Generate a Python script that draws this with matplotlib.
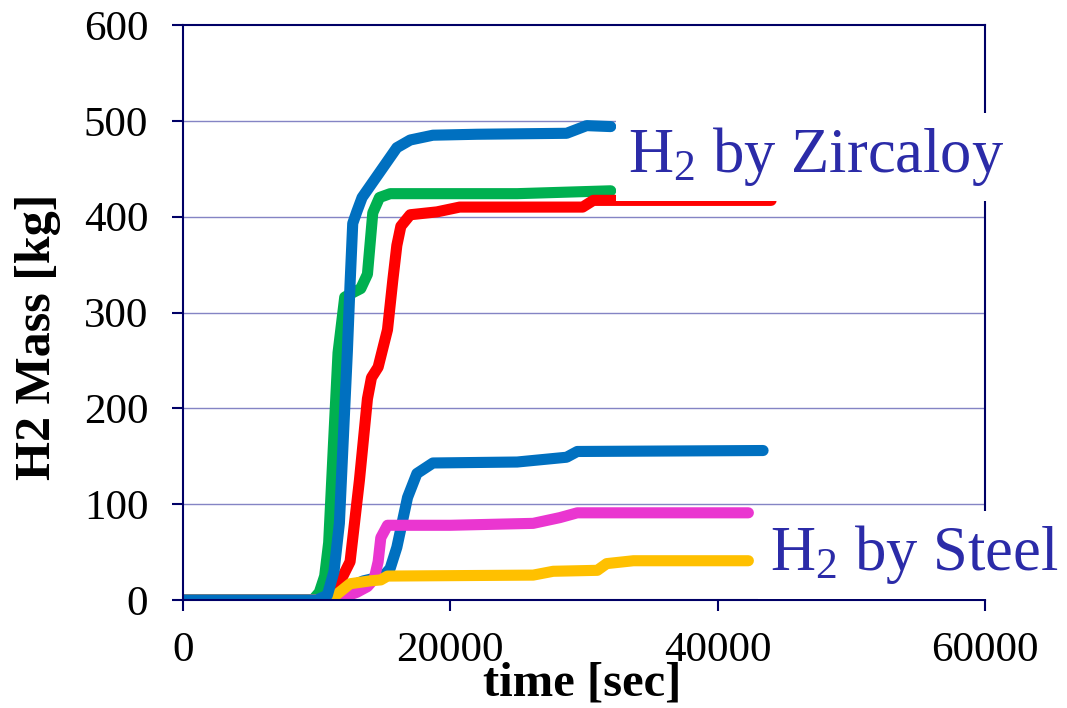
import matplotlib
matplotlib.use("Agg")
import matplotlib.pyplot as plt

plt.rcParams['font.family'] = ['Liberation Serif', 'DejaVu Serif']
plt.rcParams['mathtext.fontset'] = 'custom'
plt.rcParams['mathtext.rm'] = 'Liberation Serif'
plt.rcParams['mathtext.it'] = 'Liberation Serif:italic'

# H2 by Zircaloy
zr_blue_t = [0, 10000, 10800, 11300, 11700, 12000, 12300, 12500, 12700, 13000, 13400, 14000, 15000, 16000, 17000, 18700, 22000, 28700, 30200, 32000]
zr_blue_m = [0, 0, 5, 30, 80, 170, 260, 330, 393, 405, 420, 432, 452, 472, 480, 485, 486, 487, 495, 494]

zr_green_t = [0, 9700, 10200, 10600, 10900, 11250, 11600, 12100, 12600, 13300, 13800, 14050, 14200, 14700, 15500, 25000, 32000]
zr_green_m = [0, 0, 8, 25, 60, 160, 258, 316, 320, 325, 340, 380, 404, 420, 424, 424, 427]

zr_red_t = [0, 10700, 11500, 12500, 13200, 13800, 14100, 14600, 15300, 15700, 16000, 16300, 17000, 19000, 20700, 29900, 30700, 44000]
zr_red_m = [0, 0, 12, 40, 125, 210, 232, 243, 282, 334, 370, 390, 402, 405, 410, 410, 417, 417]

# H2 by Steel
st_blue_t = [0, 10800, 11800, 12800, 13500, 15000, 15500, 16000, 16800, 17500, 18700, 25000, 28700, 29500, 43400]
st_blue_m = [0, 0, 8, 16, 20, 25, 33, 55, 107, 132, 143, 144, 149, 155, 156]

st_magenta_t = [0, 11000, 12000, 13000, 13800, 14300, 14600, 14800, 15300, 20000, 26200, 28200, 29500, 42300]
st_magenta_m = [0, 0, 3, 8, 14, 22, 40, 65, 78, 78, 80, 86, 91, 91]

st_yellow_t = [0, 11000, 11700, 12500, 14000, 14800, 15300, 26200, 27700, 31000, 31700, 33700, 42300]
st_yellow_m = [0, 0, 8, 17, 20, 21, 25, 26, 30, 31, 38, 41, 41]

x_ticks = [0, 20000, 40000, 60000]
y_ticks = [0, 100, 200, 300, 400, 500, 600]

navy = '#000066'
label_blue = '#2B2BA8'

fig = plt.figure(figsize=(10.67, 7.08), dpi=100)
ax = fig.add_axes([0.1715, 0.1525, 0.7516, 0.8122])

lw = 8
style = dict(linewidth=lw, solid_capstyle='round', solid_joinstyle='round')
ax.plot(zr_green_t, zr_green_m, color='#00B050', **style)
ax.plot(zr_red_t, zr_red_m, color='#FF0000', **style)
ax.plot(st_blue_t, st_blue_m, color='#0070C0', **style)
ax.plot(st_magenta_t, st_magenta_m, color='#EA36D0', **style)
ax.plot(st_yellow_t, st_yellow_m, color='#FFC000', **style)
ax.plot(zr_blue_t, zr_blue_m, color='#0070C0', **style)

ax.set_xlim(0, 60000)
ax.set_ylim(0, 600)
ax.set_xticks(x_ticks)
ax.set_yticks(y_ticks)
ax.set_xticklabels([str(v) for v in x_ticks])
ax.set_yticklabels([str(v) for v in y_ticks])

for v in y_ticks[1:-1]:
    ax.axhline(v, color='#8484c4', linewidth=1.0, zorder=0.5)

for s in ax.spines.values():
    s.set_color(navy)
    s.set_linewidth(1.5)

ax.tick_params(axis='both', direction='out', colors=navy, labelcolor='black',
               length=8, width=1.5, labelsize=31)
ax.tick_params(axis='y', pad=17)
ax.tick_params(axis='x', pad=15)

fig.text(0.546, 0.035, 'time [sec]', ha='center', va='center',
         fontsize=35, fontweight='bold')
fig.text(0.036, 0.524, 'H2 Mass [kg]', ha='center', va='center',
         rotation=90, fontsize=36, fontweight='bold')

box = dict(boxstyle='square,pad=0.2', facecolor='white', edgecolor='none')
ax.text(0.555, 0.744, r'H$_2$ by Zircaloy', transform=ax.transAxes,
        fontsize=45, color=label_blue, va='baseline', ha='left',
        bbox=box, clip_on=False, zorder=5)
ax.text(0.732, 0.052, r'H$_2$ by Steel', transform=ax.transAxes,
        fontsize=45, color=label_blue, va='baseline', ha='left',
        bbox=box, clip_on=False, zorder=5)

fig.savefig('out.png', dpi=100)
